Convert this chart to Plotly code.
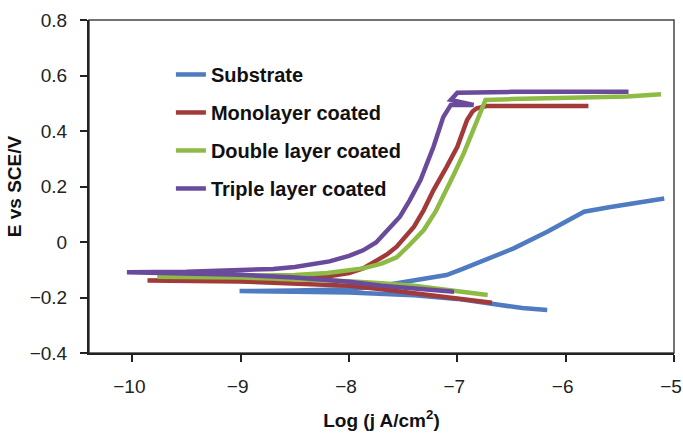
import plotly.graph_objects as go

# Substrate (blue): cathodic end -> Ecorr -> anodic end
sub_x = [-6.17, -6.4, -6.7, -7.0, -7.4, -7.7, -8.0, -8.5, -9.01,
         -8.5, -8.0, -7.8, -7.56, -7.3, -7.1, -6.95, -6.79, -6.48, -6.17, -6.0, -5.83, -5.6, -5.3, -5.09]
sub_y = [-0.245, -0.238, -0.222, -0.205, -0.192, -0.187, -0.182, -0.179, -0.177,
         -0.175, -0.170, -0.163, -0.149, -0.133, -0.119, -0.097, -0.071, -0.023, 0.037, 0.075, 0.109, 0.125, 0.142, 0.157]

# Monolayer coated (red)
mono_x = [-6.68, -7.0, -7.4, -7.7, -8.0, -8.5, -9.0, -9.86,
          -9.0, -8.5, -8.2, -8.0, -7.87, -7.75, -7.65, -7.56, -7.48, -7.4, -7.31, -7.22, -7.1, -7.0,
          -6.91, -6.86, -6.82, -6.73, -6.5, -6.0, -5.79]
mono_y = [-0.219, -0.203, -0.185, -0.170, -0.158, -0.148, -0.142, -0.139,
          -0.137, -0.132, -0.124, -0.112, -0.095, -0.070, -0.045, -0.017, 0.020, 0.055, 0.115, 0.187, 0.270, 0.343,
          0.440, 0.470, 0.482, 0.490, 0.490, 0.490, 0.490]

# Double layer coated (green)
dbl_x = [-6.72, -7.0, -7.4, -7.7, -8.0, -8.5, -9.0, -9.77,
         -9.0, -8.5, -8.2, -8.0, -7.87, -7.7, -7.56, -7.44, -7.31, -7.2, -7.13, -7.03, -6.94, -6.82,
         -6.74, -6.5, -6.0, -5.43, -5.12]
dbl_y = [-0.191, -0.178, -0.158, -0.149, -0.141, -0.134, -0.128, -0.125,
         -0.123, -0.119, -0.112, -0.104, -0.095, -0.078, -0.055, -0.010, 0.043, 0.110, 0.163, 0.245, 0.320, 0.440,
         0.512, 0.515, 0.518, 0.524, 0.532]

# Triple layer coated (purple)
tri_x = [-7.03, -7.4, -7.7, -8.0, -8.5, -9.0, -9.5, -10.05,
         -9.5, -9.0, -8.7, -8.5, -8.3, -8.18, -8.0, -7.87, -7.75, -7.65, -7.53, -7.44, -7.34, -7.22,
         -7.13, -7.06, -6.85, -7.06, -7.0, -6.5, -6.0, -5.42]
tri_y = [-0.179, -0.168, -0.158, -0.143, -0.128, -0.118, -0.112, -0.109,
         -0.107, -0.103, -0.097, -0.090, -0.078, -0.070, -0.050, -0.030, -0.002, 0.040, 0.091, 0.150, 0.223, 0.343,
         0.450, 0.494, 0.494, 0.512, 0.538, 0.541, 0.542, 0.541]

names = ["Substrate", "Monolayer coated", "Double layer coated", "Triple layer coated"]
colors = ["#4F7BC0", "#A23A3A", "#8DBB45", "#6A4A9A"]
series = [(sub_x, sub_y), (mono_x, mono_y), (dbl_x, dbl_y), (tri_x, tri_y)]

x_ticks = [-10, -9, -8, -7, -6, -5]
y_ticks = [-0.4, -0.2, 0, 0.2, 0.4, 0.6, 0.8]
y_ticktext = ["\u22120.4", "\u22120.2", "0", "0.2", "0.4", "0.6", "0.8"]
x_ticktext = ["\u221210", "\u22129", "\u22128", "\u22127", "\u22126", "\u22125"]

FONT = "Liberation Sans, Arial, sans-serif"

fig = go.Figure()
for (xs, ys), name, col in zip(series, names, colors):
    fig.add_trace(go.Scatter(x=xs, y=ys, mode="lines", name=name,
                             legendgroup=name,
                             line=dict(color=col, width=4.5)))

fig.update_layout(
    width=683, height=435,
    margin=dict(l=89, r=9, t=20, b=82, autoexpand=False),
    paper_bgcolor="white", plot_bgcolor="white",
    font=dict(family=FONT, size=19, color="#222"),
    showlegend=True,
    legend=dict(x=0.14, y=0.895, xanchor="left", yanchor="top",
                font=dict(family=FONT, size=20, color="#111", weight="bold"),
                bgcolor="rgba(0,0,0,0)", tracegroupgap=9),
    shapes=[dict(type="rect", xref="paper", yref="paper", x0=0, x1=1, y0=0, y1=1,
                 line=dict(color="#444", width=1.5), layer="below")],
)
fig.update_xaxes(range=[-10.4, -5], tickvals=x_ticks, ticktext=x_ticktext,
                 ticks="outside", ticklen=7, tickwidth=2, tickcolor="#222",
                 showline=True, linewidth=2, linecolor="#222",
                 showgrid=False, zeroline=False, ticklabelstandoff=8,
                 ticklabelshift=-3,
                 ticklabeloverflow="allow", automargin=False,
                 title=dict(text="Log (j A/cm<sup>2</sup>)", standoff=18,
                            font=dict(family=FONT, size=19, color="#111", weight="bold")))
fig.update_yaxes(range=[-0.4, 0.8], tickvals=y_ticks, ticktext=y_ticktext,
                 ticks="outside", ticklen=7, tickwidth=2, tickcolor="#222",
                 showline=True, linewidth=2, linecolor="#222",
                 showgrid=False, zeroline=False, ticklabelstandoff=9,
                 automargin=False,
                 title=dict(text="E vs SCE/V", standoff=3,
                            font=dict(family=FONT, size=19, color="#111", weight="bold")))

fig.write_html("out.html", config={"displayModeBar": False},
               post_script="document.body.style.margin='0';document.body.style.overflow='hidden';")
